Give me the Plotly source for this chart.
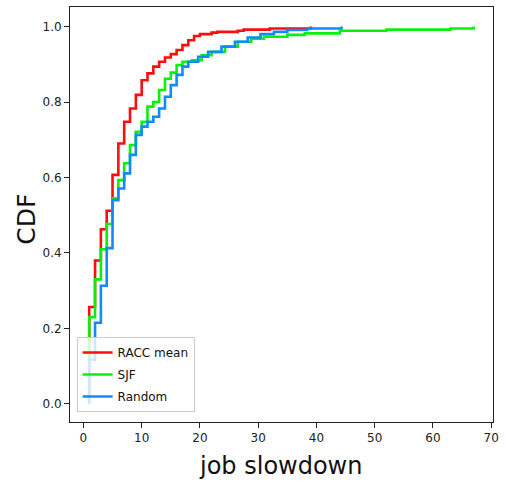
import plotly.graph_objects as go

# Empirical CDF step points (job slowdown, cumulative fraction)
racc_x = [1, 1, 2, 3, 4, 5, 6, 7, 8, 9, 10, 11, 12, 13, 14, 15, 16, 17, 18, 19, 20, 22, 23, 26.5, 27.5, 32, 39]
racc_y = [0, 0.257, 0.38, 0.463, 0.512, 0.607, 0.69, 0.748, 0.783, 0.819, 0.858, 0.876, 0.894, 0.907, 0.918,
          0.927, 0.938, 0.951, 0.964, 0.975, 0.98, 0.984, 0.986, 0.989, 0.992, 0.995, 1.0]

sjf_x = [1, 1, 2, 3, 4, 5, 6, 7, 8, 9, 10, 11, 12, 13, 14, 15, 16, 17, 18.6, 20.3, 22, 24.3, 26.5, 28.8, 31,
         35, 38, 44, 52, 63, 67]
sjf_y = [0, 0.23, 0.33, 0.41, 0.477, 0.545, 0.593, 0.638, 0.686, 0.721, 0.748, 0.788, 0.80, 0.832, 0.862,
         0.878, 0.898, 0.907, 0.911, 0.924, 0.933, 0.947, 0.96, 0.968, 0.973, 0.978, 0.982, 0.989, 0.992, 0.995, 1.0]

rand_x = [1, 1, 2, 3, 4, 5, 6, 7, 8, 9, 10, 11, 12, 13, 14, 15, 16, 17, 18, 19.7, 21.4, 23.7, 26, 28.2, 30.4,
          32.7, 35, 38.4, 44.3]
rand_y = [0, 0.117, 0.215, 0.313, 0.413, 0.54, 0.571, 0.611, 0.66, 0.713, 0.735, 0.748, 0.761, 0.783, 0.814,
          0.845, 0.872, 0.894, 0.907, 0.92, 0.933, 0.947, 0.96, 0.971, 0.98, 0.986, 0.991, 0.995, 1.0]

names = ["RACC mean", "SJF", "Random"]
colors = ["#ff0d0d", "#0af00a", "#0f8bff"]
xticks = [0, 10, 20, 30, 40, 50, 60, 70]
yticks = [0.0, 0.2, 0.4, 0.6, 0.8, 1.0]

fig = go.Figure()
for name, xs, ys, c in zip(names, [racc_x, sjf_x, rand_x], [racc_y, sjf_y, rand_y], colors):
    fig.add_trace(go.Scatter(x=xs, y=ys, mode="lines", name=name, legendgroup=name,
                             line=dict(color=c, width=2.6, shape="hv")))

font = "DejaVu Sans, Arial, sans-serif"
axis_common = dict(showgrid=False, zeroline=False, showline=True, linecolor="#222", linewidth=1,
                   mirror=True, ticks="outside", ticklen=5, tickwidth=1, tickcolor="#222",
                   tickfont=dict(family=font, size=12, color="#222"))

fig.update_layout(
    width=505, height=484,
    margin=dict(l=70, r=6, t=7, b=62),
    paper_bgcolor="white", plot_bgcolor="white",
    font=dict(family=font, color="#111"),
    xaxis=dict(range=[-2.3, 70.3], tickvals=xticks, ticktext=[str(t) for t in xticks], **axis_common),
    yaxis=dict(range=[-0.048, 1.052], tickvals=yticks, ticktext=[f"{t:.1f}" for t in yticks], **axis_common),
    legend=dict(x=0.0156, y=0.024, xanchor="left", yanchor="bottom",
                bgcolor="rgba(255,255,255,0.8)", bordercolor="#cccccc", borderwidth=1,
                font=dict(family=font, size=12, color="#111"), tracegroupgap=3),
    showlegend=True,
    annotations=[
        dict(text="CDF", xref="paper", yref="paper", x=-0.105, y=0.489, xanchor="center",
             yanchor="middle", textangle=-90, showarrow=False,
             font=dict(family=font, size=25, color="#111")),
        dict(text="job slowdown", xref="paper", yref="paper", x=0.497, y=-0.106, xanchor="center",
             yanchor="middle", showarrow=False, font=dict(family=font, size=24, color="#111")),
    ],
)

fig.write_html("out.html", config={"displayModeBar": False},
               post_script="document.body.style.margin='0';document.body.style.overflow='hidden';")
